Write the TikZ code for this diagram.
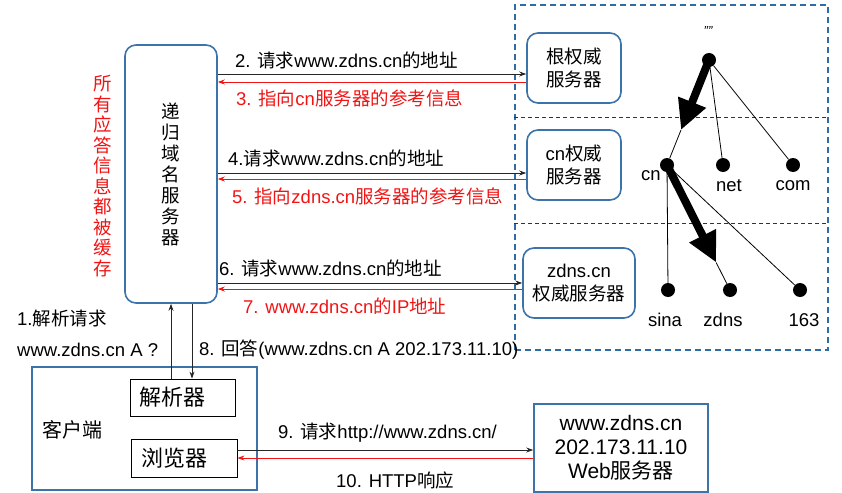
\documentclass[tikz,border=0pt]{standalone}
\usepackage{fontspec}
\setmainfont{Liberation Sans}
\newfontfamily\cjk{Noto Sans CJK SC}
\newcommand\zh[1]{{\cjk #1}}
\usetikzlibrary{arrows.meta,calc}
\definecolor{bblue}{RGB}{60,115,170}
\definecolor{dblue}{RGB}{46,108,168}
\definecolor{rred}{RGB}{240,20,20}
\begin{document}
\begin{tikzpicture}[x=1pt,y=-1pt,
 every node/.style={font=\fontsize{18.5}{22}\selectfont, inner sep=0pt},
 rbox/.style={draw=bblue, line width=1.6pt, rounded corners=11pt, align=center},
 bbox/.style={draw=bblue, line width=1.6pt, align=center},
 kbox/.style={draw=black, line width=0.8pt},
 lbl/.style={anchor=west},
 rlbl/.style={anchor=west, text=rred},
 req/.style={draw=black!85, line width=0.9pt, -{Stealth[length=7pt,width=5pt]}},
 rsp/.style={draw=rred, line width=0.9pt, -{Stealth[length=7pt,width=5pt]}},
 dot/.style={circle, fill=black, minimum size=14pt, inner sep=0pt},
 tline/.style={line width=0.8pt},
 fat/.style={line width=8pt, -{Triangle[length=30pt,width=28pt]}},
 divider/.style={draw=black!80, line width=0.8pt, dash pattern=on 4pt off 3pt}
]
\useasboundingbox (0,0) rectangle (842,492);

% recursive server
\node[rbox, minimum width=92pt, minimum height=258pt, text width=20pt,
      font=\cjk\fontsize{18.5}{21}\selectfont] (rec) at (171,174)
      {递\\归\\域\\名\\服\\务\\器};
\node[text=rred, align=center, font=\cjk\fontsize{18.5}{20.5}\selectfont] (note) at (103,176)
      {所\\有\\应\\答\\信\\息\\都\\被\\缓\\存};

% authoritative zone
\node[draw=dblue, line width=1.6pt, dash pattern=on 6pt off 4pt,
      minimum width=313pt, minimum height=345pt] (zone) at (671.5,177.5) {};
\draw[divider] (zone.west |- 0,117) -- (zone.east |- 0,117);
\draw[divider] (zone.west |- 0,223) -- (zone.east |- 0,223);

\node[rbox, minimum width=94pt, minimum height=70pt, font=\cjk\fontsize{18.5}{23}\selectfont]
      (rootsrv) at (574,68) {根权威\\服务器};
\node[rbox, minimum width=94pt, minimum height=70pt, font=\fontsize{18.5}{23}\selectfont]
      (cnsrv) at (574,165) {cn\zh{权威}\\\zh{服务器}};
\node[rbox, minimum width=112pt, minimum height=70pt, font=\fontsize{18.5}{23}\selectfont]
      (zdsrv) at (579,283) {zdns.cn\\\zh{权威服务器}};

% tree
\node[dot] (r) at (709,60) {};
\node[dot] (cn) at (667,165) {};
\node[dot] (net) at (723,165) {};
\node[dot] (com) at (793,165) {};
\node[dot] (sina) at (668,290) {};
\node[dot] (zd) at (730,290) {};
\node[dot] (n163) at (800,290) {};
\node[font=\fontsize{13}{13}\selectfont\itshape] (lr) at (708,31) {""};
\node (lcn) at (651,176) {cn};
\node (lnet) at (729,186) {net};
\node (lcom) at (793,186) {com};
\node (lsina) at (665,320) {sina};
\node (lzd) at (723,320) {zdns};
\node (l163) at (804,320) {163};
\draw[tline] (r) -- (net);
\draw[tline] (r) -- (com);
\draw[tline] (cn) -- (sina);
\draw[tline] (cn) -- (n163);
\coordinate (t1) at ($(r)!0.667!(cn)$);
\coordinate (t2) at ($(cn)!0.78!(zd)$);
\draw[fat] (r.center) -- (t1);
\draw[tline] (t1) -- (cn);
\draw[fat] (cn.center) -- (t2);
\draw[tline] (t2) -- (zd);

% query arrows
\draw[req] (rec.east |- 0,74) -- (rootsrv.west |- 0,74);
\draw[rsp] (rootsrv.west |- 0,82) -- (rec.east |- 0,82);
\draw[req] (rec.east |- 0,173) -- (cnsrv.west |- 0,173);
\draw[rsp] (cnsrv.west |- 0,179) -- (rec.east |- 0,179);
\draw[req] (rec.east |- 0,283) -- (zdsrv.west |- 0,283);
\draw[rsp] (zdsrv.west |- 0,289) -- (rec.east |- 0,289);

\node[lbl] (a2) at (235,60) {2. \zh{请求}www.zdns.cn\zh{的地址}};
\node[rlbl] (a3) at (236,98) {3. \zh{指向}cn\zh{服务器的参考信息}};
\node[lbl] (a4) at (228,158) {4.\zh{请求}www.zdns.cn\zh{的地址}};
\node[rlbl] (a5) at (232,196) {5. \zh{指向}zdns.cn\zh{服务器的参考信息}};
\node[lbl] (a6) at (219,268) {6. \zh{请求}www.zdns.cn\zh{的地址}};
\node[rlbl] (a7) at (243,306) {7. www.zdns.cn\zh{的}IP\zh{地址}};

% client
\node[bbox, minimum width=225pt, minimum height=123pt] (client) at (144.5,428.5) {};
\node[font=\cjk\fontsize{20}{24}\selectfont] (lclient) at (72,430) {客户端};
\node[kbox, minimum width=105pt, minimum height=37pt] (jx) at (182.5,397.5) {};
\node[font=\cjk\fontsize{22}{24}\selectfont] (ljx) at (172.5,397.5) {解析器};
\node[kbox, minimum width=106pt, minimum height=38pt] (llq) at (184,458) {};
\node[font=\cjk\fontsize{22}{24}\selectfont] (lllq) at (174,458) {浏览器};

\draw[req] (jx.north -| 171,0) -- (rec.south -| 171,0);
\draw[req] (rec.south -| 192,0) -- (jx.north -| 192,0);
\node[lbl] (a1) at (17,318) {1.\zh{解析请求}};
\node[lbl] (a1b) at (17,350) {www.zdns.cn A ?};
\node[lbl] (a8) at (199,350) {8. \zh{回答}(www.zdns.cn A 202.173.11.10)};

% web server
\node[bbox, minimum width=174pt, minimum height=88pt, font=\fontsize{21}{24}\selectfont]
      (web) at (621,448) {www.zdns.cn\\202.173.11.10\\Web\zh{服务器}};
\draw[req] (llq.east |- 0,450) -- (web.west |- 0,450);
\draw[rsp] (web.west |- 0,458) -- (llq.east |- 0,458);
\node[lbl] (a9) at (278,433) {9. \zh{请求}http://www.zdns.cn/};
\node[lbl] (a10) at (336,480) {10. HTTP\zh{响应}};
\end{tikzpicture}
\end{document}
